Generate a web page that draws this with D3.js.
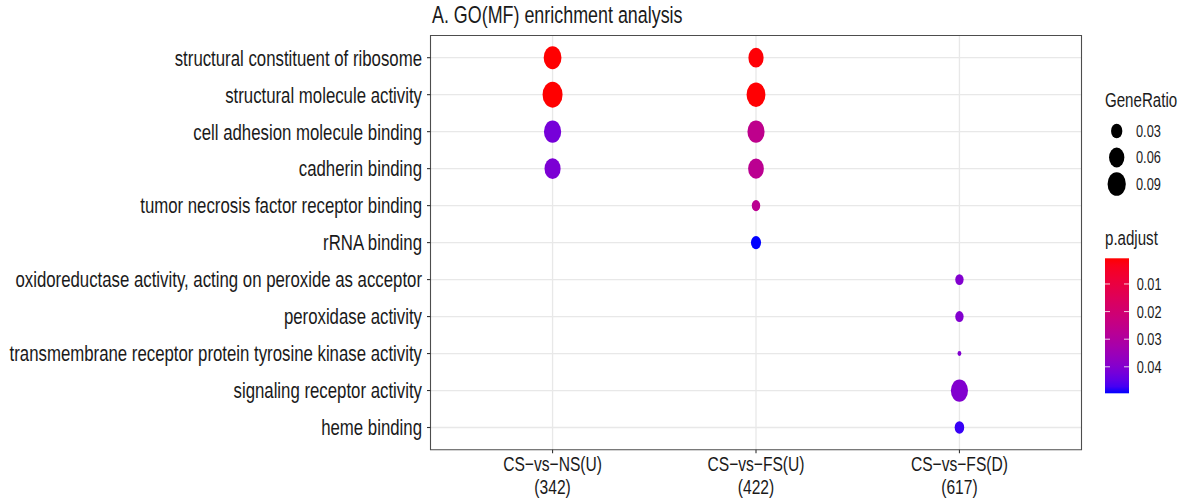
<!DOCTYPE html>
<html>
<head>
<meta charset="utf-8">
<script src="https://cdn.jsdelivr.net/npm/d3@7"></script>
<style>
  body { margin: 0; background: #fff; }
  svg { display: block; }
  text { font-family: "Liberation Sans", Arial, Helvetica, sans-serif; fill: #1a1a1a; }
</style>
</head>
<body>
<svg id="chart" width="1187" height="501"></svg>
<script>
// GO molecular-function terms, top to bottom
const terms = [
  "structural constituent of ribosome",
  "structural molecule activity",
  "cell adhesion molecule binding",
  "cadherin binding",
  "tumor necrosis factor receptor binding",
  "rRNA binding",
  "oxidoreductase activity, acting on peroxide as acceptor",
  "peroxidase activity",
  "transmembrane receptor protein tyrosine kinase activity",
  "signaling receptor activity",
  "heme binding"
];

// comparison groups and their gene-list sizes
const groupNames = ["CS\u2212vs\u2212NS(U)", "CS\u2212vs\u2212FS(U)", "CS\u2212vs\u2212FS(D)"];
const groupSizes = [342, 422, 617];

// enriched term per dot: group index, term index, gene count, adjusted p
const dotGroup = [0, 0, 0, 0, 1, 1, 1, 1, 1, 1, 2, 2, 2, 2, 2];
const dotTerm  = [0, 1, 2, 3, 0, 1, 2, 3, 4, 5, 6, 7, 8, 9, 10];
const geneCount = [29, 38, 27, 23, 25, 41, 33, 27, 7, 10, 10, 10, 5, 48, 13];
const pAdjust = [0.0008, 0.0007, 0.042, 0.041, 0.0012, 0.0009, 0.026, 0.027, 0.027, 0.0496,
                 0.040, 0.040, 0.040, 0.040, 0.048];

// legend breaks
const sizeBreaks = [0.03, 0.06, 0.09];
const padjBreaks = [0.01, 0.02, 0.03, 0.04];

const dots = dotGroup.map((g, i) => ({
  group: groupNames[g],
  term: terms[dotTerm[i]],
  ratio: geneCount[i] / groupSizes[g],
  padj: pAdjust[i]
}));

// The figure is drawn in a frame that is stretched vertically by K
const K = 1.3;
const svg = d3.select("#chart");
svg.append("rect").attr("width", 1187).attr("height", 501).attr("fill", "#fff");
const root = svg.append("g").attr("transform", `scale(1,${K})`);
const vy = y => y / K;

const panel = { left: 430.5, right: 1081.5, top: vy(35.5), bottom: vy(449.7) };

const x = d3.scalePoint().domain(groupNames).range([panel.left, panel.right]).padding(0.6);
const y = d3.scalePoint().domain(terms).range([panel.top, panel.bottom]).padding(0.6);

const ratioExtent = d3.extent(dots, d => d.ratio);
const size = d3.scaleSqrt().domain([0, ratioExtent[1] - ratioExtent[0]]).range([1.92, 10]).clamp(true);
const radius = v => size(v - ratioExtent[0]);

const padjExtent = d3.extent(dots, d => d.padj);
const color = d3.scaleLinear().domain(padjExtent).range(["#ff0000", "#0000ff"]).interpolate(d3.interpolateLab);

// grid lines
const grid = root.append("g");
grid.selectAll("line.h").data(terms).join("line")
  .attr("x1", panel.left).attr("x2", panel.right)
  .attr("y1", d => y(d)).attr("y2", d => y(d))
  .attr("stroke", "#e8e8e8").attr("stroke-width", 1.3).attr("vector-effect", "non-scaling-stroke");
grid.selectAll("line.v").data(groupNames).join("line")
  .attr("x1", d => x(d)).attr("x2", d => x(d))
  .attr("y1", panel.top).attr("y2", panel.bottom)
  .attr("stroke", "#e8e8e8").attr("stroke-width", 1.3).attr("vector-effect", "non-scaling-stroke");

// dots, largest first so small ones stay on top
root.append("g").selectAll("circle")
  .data(dots.slice().sort((a, b) => b.ratio - a.ratio))
  .join("circle")
  .attr("cx", d => x(d.group))
  .attr("cy", d => y(d.term))
  .attr("r", d => radius(d.ratio))
  .attr("fill", d => color(d.padj));

// panel border
root.append("rect")
  .attr("x", panel.left).attr("y", panel.top)
  .attr("width", panel.right - panel.left).attr("height", panel.bottom - panel.top)
  .attr("fill", "none").attr("stroke", "#4d4d4d").attr("stroke-width", 1.1)
  .attr("vector-effect", "non-scaling-stroke");

// y axis
const yAxis = root.append("g");
yAxis.selectAll("line").data(terms).join("line")
  .attr("x1", panel.left - 3.5).attr("x2", panel.left)
  .attr("y1", d => y(d)).attr("y2", d => y(d))
  .attr("stroke", "#333").attr("stroke-width", 1.1).attr("vector-effect", "non-scaling-stroke");
yAxis.selectAll("text").data(terms).join("text")
  .attr("x", 422).attr("y", d => y(d)).attr("dy", "0.36em")
  .attr("text-anchor", "end").attr("font-size", 16.8)
  .text(d => d);

// x axis: group name over gene-list size, as two separate labels
const xAxis = root.append("g");
xAxis.selectAll("line").data(groupNames).join("line")
  .attr("x1", d => x(d)).attr("x2", d => x(d))
  .attr("y1", panel.bottom).attr("y2", panel.bottom + vy(3.5))
  .attr("stroke", "#333").attr("stroke-width", 1.1).attr("vector-effect", "non-scaling-stroke");
xAxis.selectAll("text.name").data(groupNames).join("text").attr("class", "name")
  .attr("text-anchor", "middle").attr("font-size", 15.6)
  .attr("x", d => x(d)).attr("y", vy(471)).text(d => d);
xAxis.selectAll("text.size").data(groupNames).join("text").attr("class", "size")
  .attr("text-anchor", "middle").attr("font-size", 15.6)
  .attr("x", d => x(d)).attr("y", vy(494)).text((d, i) => `(${groupSizes[i]})`);

// title
root.append("text").attr("x", 432).attr("y", vy(23)).attr("font-size", 17.9)
  .text("A. GO(MF) enrichment analysis");

// size legend
const sizeLegend = root.append("g");
sizeLegend.append("text").attr("x", 1105).attr("y", vy(107)).attr("font-size", 15.1).text("GeneRatio");
const sizeRowY = i => vy(131 + i * 26.5);
sizeLegend.selectAll("circle").data(sizeBreaks).join("circle")
  .attr("cx", 1116.7).attr("cy", (d, i) => sizeRowY(i))
  .attr("r", d => radius(d)).attr("fill", "#000");
sizeLegend.selectAll("text.lab").data(sizeBreaks).join("text").attr("class", "lab")
  .attr("x", 1136).attr("y", (d, i) => sizeRowY(i)).attr("dy", "0.36em")
  .attr("font-size", 12.8).text(d => d.toFixed(2));

// colour legend
const colLegend = root.append("g");
colLegend.append("text").attr("x", 1105).attr("y", vy(245)).attr("font-size", 15.1).text("p.adjust");
const bar = { x: 1105, w: 24, top: vy(258.3), bottom: vy(393.3) };
const barScale = d3.scaleLinear().domain(padjExtent).range([bar.top, bar.bottom]);
const grad = svg.append("defs").append("linearGradient")
  .attr("id", "padjGrad").attr("x1", 0).attr("x2", 0).attr("y1", 0).attr("y2", 1);
d3.range(0, 1.0001, 0.05).forEach(t => {
  grad.append("stop").attr("offset", t)
    .attr("stop-color", color(padjExtent[0] + t * (padjExtent[1] - padjExtent[0])));
});
colLegend.append("rect")
  .attr("x", bar.x).attr("y", bar.top).attr("width", bar.w).attr("height", bar.bottom - bar.top)
  .attr("fill", "url(#padjGrad)");
padjBreaks.forEach(v => {
  const yy = barScale(v);
  [[bar.x, bar.x + 5], [bar.x + bar.w - 5, bar.x + bar.w]].forEach(([a, b]) => {
    colLegend.append("line").attr("x1", a).attr("x2", b).attr("y1", yy).attr("y2", yy)
      .attr("stroke", "#fff").attr("stroke-width", 1).attr("vector-effect", "non-scaling-stroke")
      .attr("opacity", 0.8);
  });
});
colLegend.selectAll("text.lab").data(padjBreaks).join("text").attr("class", "lab")
  .attr("x", 1136.7).attr("y", d => barScale(d)).attr("dy", "0.36em")
  .attr("font-size", 12.8).text(d => d.toFixed(2));
</script>
</body>
</html>
